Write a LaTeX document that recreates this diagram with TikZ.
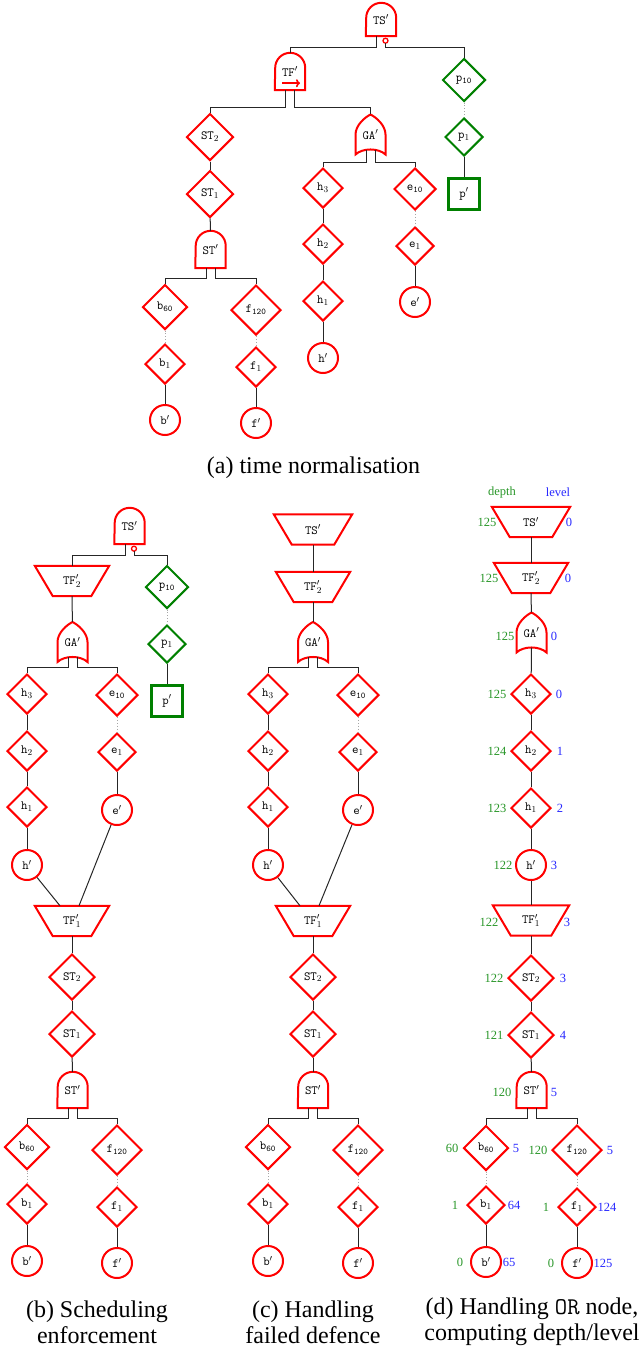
\documentclass[tikz,border=0pt]{standalone}
\usepackage{fontspec}
\setmainfont{Liberation Serif}
\usetikzlibrary{shapes.geometric,calc,arrows.meta}
\definecolor{dgreen}{RGB}{40,150,40}
\definecolor{dblue}{RGB}{40,40,255}
\definecolor{pgreen}{RGB}{0,128,0}
\newcommand\nfont{\fontsize{12.5}{14}\selectfont\ttfamily}
\newcommand\capfont{\fontsize{24}{26}\selectfont}
\newcommand\numfont{\fontsize{12.5}{14}\selectfont}
\tikzset{
 conn/.style={draw=black!85, line width=1pt},
 dotc/.style={draw=black!35, line width=0.9pt, dotted},
 rd/.style={draw=red, line width=2pt},
 gd/.style={draw=pgreen, line width=2pt},
 dia/.style={diamond, rd, inner sep=0pt, minimum width=#1, minimum height=#1, font=\nfont},
 gdia/.style={diamond, gd, inner sep=0pt, minimum width=#1, minimum height=#1, font=\nfont},
 circ/.style={circle, rd, minimum size=30pt, inner sep=0pt, font=\nfont},
 gsq/.style={rectangle, draw=pgreen, line width=2.2pt, minimum width=31pt, minimum height=31pt, inner sep=0pt, font=\nfont},
 gbox/.style={inner sep=0pt, minimum width=30pt, minimum height=#1, font=\nfont},
 tbox/.style={inner sep=0pt, minimum width=#1, minimum height=30pt, font=\nfont},
 dl/.style={text=dgreen, font=\numfont, inner sep=0pt},
 ll/.style={text=dblue, font=\numfont, inner sep=0pt},
 captext/.style={font=\capfont, align=center, inner sep=0pt},
}
\newcommand\andshape[1]{\draw[rd] (#1.south west) -- (#1.south east) -- ($(#1.north east)+(0,-15)$) arc[start angle=0,end angle=180,radius=15] -- cycle;}
\newcommand\orshape[1]{\draw[rd, shift={(#1.center)}] (-15,-20) -- (-15,0) .. controls (-15,9) and (-6,17) .. (0,20) .. controls (6,17) and (15,9) .. (15,0) -- (15,-20) .. controls (8,-13.3) and (-8,-13.3) .. cycle;}
\newcommand\trapshape[1]{\draw[rd] (#1.north west) -- (#1.north east) -- ($(#1.south east)+(-18,0)$) -- ($(#1.south west)+(18,0)$) -- cycle;}
\begin{document}
\begin{tikzpicture}[x=1pt,y=1pt]
\useasboundingbox (0,0) rectangle (642,-1347);

% ---------------- (a) ----------------
\node[gbox=33] (tsA) at (381,-19.5) {TS$'$};
\andshape{tsA}
\coordinate (bubA) at ($(tsA.south)+(4.5,-4.5)$);
\draw[draw=red, line width=1.3pt] (bubA) circle[radius=2.5];
\node[gbox=37] (tfA) at (290,-71.5) {TF$'$};
\andshape{tfA}
\draw[draw=red, line width=1.6pt, -{To[length=4pt,width=8pt]}] ($(tfA.south)+(-8,7)$) -- ++(18,0);
\node[dia=47] (stA2) at (210,-137) {ST$_2$};
\node[dia=47] (stA1) at (210,-194) {ST$_1$};
\node[gbox=37] (stA) at (210.5,-249.5) {ST$'$};
\andshape{stA}
\node[dia=45] (bA60) at (165,-307) {b$_{\mathtt{60}}$};
\node[dia=40] (bA1) at (165,-364) {b$_1$};
\node[circ] (bpA) at (165,-420) {b$'$};
\node[dia=50] (fA120) at (256,-310) {f$_{\mathtt{120}}$};
\node[dia=40] (fA1) at (256,-367) {f$_1$};
\node[circ] (fpA) at (256,-423) {f$'$};
\node[gbox=40] (gaA) at (370.5,-134.5) {GA$'$};
\orshape{gaA}
\node[dia=40] (hA3) at (323,-188) {h$_3$};
\node[dia=40] (hA2) at (323,-244) {h$_2$};
\node[dia=40] (hA1) at (323,-301) {h$_1$};
\node[circ] (hpA) at (323,-358) {h$'$};
\node[dia=42] (eA10) at (415,-189) {e$_{\mathtt{10}}$};
\node[dia=38] (eA1) at (415,-246) {e$_1$};
\node[circ] (epA) at (415,-302) {e$'$};
\node[gdia=43] (pA10) at (464,-80) {p$_{\mathtt{10}}$};
\node[gdia=38] (pA1) at (464,-137) {p$_1$};
\node[gsq] (ppA) at (464,-194) {p$'$};

\draw[conn] ($(tsA.south)+(-4.5,0)$) -- ++(0,-11) -| (tfA.north);
\draw[conn] ($(bubA)+(0,-2.5)$) -- ($(tsA.south)+(4.5,-11)$) -| (pA10.north);
\draw[conn] ($(tfA.south)+(-4.5,0)$) -- ++(0,-17) -| (stA2.north);
\draw[conn] ($(tfA.south)+(4.5,0)$) -- ++(0,-17) -| (gaA.north);
\draw[conn] (stA2) -- (stA1);
\draw[conn] (stA1) -- (stA);
\draw[conn] ($(stA.south)+(-4.5,0)$) -- ++(0,-10) -| (bA60.north);
\draw[conn] ($(stA.south)+(4.5,0)$) -- ++(0,-10) -| (fA120.north);
\draw[dotc] (bA60) -- (bA1);
\draw[conn] (bA1) -- (bpA);
\draw[dotc] (fA120) -- (fA1);
\draw[conn] (fA1) -- (fpA);
\draw[conn] ($(gaA.south)+(-4.5,5)$) -- ++(0,-13) -| (hA3.north);
\draw[conn] ($(gaA.south)+(4.5,5)$) -- ++(0,-13) -| (eA10.north);
\draw[conn] (hA3) -- (hA2);
\draw[conn] (hA2) -- (hA1);
\draw[conn] (hA1) -- (hpA);
\draw[dotc] (eA10) -- (eA1);
\draw[conn] (eA1) -- (epA);
\draw[dotc] (pA10) -- (pA1);
\draw[conn] (pA1) -- (ppA);

\node[captext] (capA) at (313.5,-468) {(a) time normalisation};

% ---------------- (b) ----------------
\node[gbox=36] (tsB) at (129.5,-526) {TS$'$};
\andshape{tsB}
\coordinate (bubB) at ($(tsB.south)+(4.5,-4.5)$);
\draw[draw=red, line width=1.3pt] (bubB) circle[radius=2.5];
\node[tbox=74] (tf2B) at (72,-581) {TF$'_2$};
\trapshape{tf2B}
\node[gbox=40] (gaB) at (72.5,-642) {GA$'$};
\orshape{gaB}
\node[dia=40] (hB3) at (27,-694) {h$_3$};
\node[dia=40] (hB2) at (27,-751) {h$_2$};
\node[dia=40] (hB1) at (27,-807) {h$_1$};
\node[circ] (hpB) at (27,-865) {h$'$};
\node[dia=42] (eB10) at (117,-695) {e$_{\mathtt{10}}$};
\node[dia=38] (eB1) at (117,-752) {e$_1$};
\node[circ] (epB) at (117,-810) {e$'$};
\node[gdia=43] (pB10) at (167,-587) {p$_{\mathtt{10}}$};
\node[gdia=38] (pB1) at (167,-644) {p$_1$};
\node[gsq] (ppB) at (167,-701) {p$'$};
\node[tbox=74] (tf1B) at (72,-921) {TF$'_1$};
\trapshape{tf1B}
\node[dia=46] (stB2) at (72,-977) {ST$_2$};
\node[dia=46] (stB1) at (72,-1034) {ST$_1$};
\node[gbox=36] (stB) at (72.5,-1090) {ST$'$};
\andshape{stB}
\node[dia=45] (bB60) at (27,-1147) {b$_{\mathtt{60}}$};
\node[dia=40] (bB1) at (27,-1204) {b$_1$};
\node[circ] (bpB) at (27,-1261) {b$'$};
\node[dia=50] (fB120) at (117,-1150) {f$_{\mathtt{120}}$};
\node[dia=40] (fB1) at (117,-1207) {f$_1$};
\node[circ] (fpB) at (117,-1263) {f$'$};

\draw[conn] ($(tsB.south)+(-4.5,0)$) -- ++(0,-11) -| (tf2B.north);
\draw[conn] ($(bubB)+(0,-2.5)$) -- ($(tsB.south)+(4.5,-11)$) -| (pB10.north);
\draw[conn] (tf2B) -- (gaB);
\draw[conn] ($(gaB.south)+(-4.5,5)$) -- ++(0,-10) -| (hB3.north);
\draw[conn] ($(gaB.south)+(4.5,5)$) -- ++(0,-10) -| (eB10.north);
\draw[conn] (hB3) -- (hB2);
\draw[conn] (hB2) -- (hB1);
\draw[conn] (hB1) -- (hpB);
\draw[dotc] (eB10) -- (eB1);
\draw[conn] (eB1) -- (epB);
\draw[dotc] (pB10) -- (pB1);
\draw[conn] (pB1) -- (ppB);
\draw[conn] (hpB) -- ($(tf1B.north)+(-12,0)$);
\draw[conn] (epB) -- ($(tf1B.north)+(7,0)$);
\draw[conn] (tf1B) -- (stB2);
\draw[conn] (stB2) -- (stB1);
\draw[conn] (stB1) -- (stB);
\draw[conn] ($(stB.south)+(-4.5,0)$) -- ++(0,-10) -| (bB60.north);
\draw[conn] ($(stB.south)+(4.5,0)$) -- ++(0,-10) -| (fB120.north);
\draw[dotc] (bB60) -- (bB1);
\draw[conn] (bB1) -- (bpB);
\draw[dotc] (fB120) -- (fB1);
\draw[conn] (fB1) -- (fpB);

\node[captext] (capB) at (97,-1322) {(b) Scheduling\\enforcement};

% ---------------- (c) ----------------
\node[tbox=78] (tsC) at (313,-529.5) {TS$'$};
\trapshape{tsC}
\node[tbox=74] (tf2C) at (313,-587) {TF$'_2$};
\trapshape{tf2C}
\node[gbox=40] (gaC) at (313,-642) {GA$'$};
\orshape{gaC}
\node[dia=40] (hC3) at (268,-694) {h$_3$};
\node[dia=40] (hC2) at (268,-751) {h$_2$};
\node[dia=40] (hC1) at (268,-807) {h$_1$};
\node[circ] (hpC) at (268,-865) {h$'$};
\node[dia=42] (eC10) at (358,-695) {e$_{\mathtt{10}}$};
\node[dia=38] (eC1) at (358,-752) {e$_1$};
\node[circ] (epC) at (358,-810) {e$'$};
\node[tbox=74] (tf1C) at (313,-921) {TF$'_1$};
\trapshape{tf1C}
\node[dia=46] (stC2) at (313,-977) {ST$_2$};
\node[dia=46] (stC1) at (313,-1034) {ST$_1$};
\node[gbox=36] (stC) at (313,-1090) {ST$'$};
\andshape{stC}
\node[dia=45] (bC60) at (268,-1147) {b$_{\mathtt{60}}$};
\node[dia=40] (bC1) at (268,-1204) {b$_1$};
\node[circ] (bpC) at (268,-1261) {b$'$};
\node[dia=50] (fC120) at (358,-1150) {f$_{\mathtt{120}}$};
\node[dia=40] (fC1) at (358,-1207) {f$_1$};
\node[circ] (fpC) at (358,-1263) {f$'$};

\draw[conn] (tsC) -- (tf2C);
\draw[conn] (tf2C) -- (gaC);
\draw[conn] ($(gaC.south)+(-4.5,5)$) -- ++(0,-10) -| (hC3.north);
\draw[conn] ($(gaC.south)+(4.5,5)$) -- ++(0,-10) -| (eC10.north);
\draw[conn] (hC3) -- (hC2);
\draw[conn] (hC2) -- (hC1);
\draw[conn] (hC1) -- (hpC);
\draw[dotc] (eC10) -- (eC1);
\draw[conn] (eC1) -- (epC);
\draw[conn] (hpC) -- ($(tf1C.north)+(-13,0)$);
\draw[conn] (epC) -- ($(tf1C.north)+(6,0)$);
\draw[conn] (tf1C) -- (stC2);
\draw[conn] (stC2) -- (stC1);
\draw[conn] (stC1) -- (stC);
\draw[conn] ($(stC.south)+(-4.5,0)$) -- ++(0,-10) -| (bC60.north);
\draw[conn] ($(stC.south)+(4.5,0)$) -- ++(0,-10) -| (fC120.north);
\draw[dotc] (bC60) -- (bC1);
\draw[conn] (bC1) -- (bpC);
\draw[dotc] (fC120) -- (fC1);
\draw[conn] (fC1) -- (fpC);

\node[captext] (capC) at (313,-1322) {(c) Handling\\failed defence};

% ---------------- (d) ----------------
\node[dl] (hdepth) at (502,-492) {depth};
\node[ll] (hlevel) at (558,-492) {level};
\node[tbox=78] (tsD) at (531,-522) {TS$'$};
\trapshape{tsD}
\node[tbox=74] (tf2D) at (531,-578) {TF$'_2$};
\trapshape{tf2D}
\node[gbox=40] (gaD) at (531.5,-632.5) {GA$'$};
\orshape{gaD}
\node[dia=40] (hD3) at (531,-694) {h$_3$};
\node[dia=40] (hD2) at (531,-751) {h$_2$};
\node[dia=40] (hD1) at (531,-808) {h$_1$};
\node[circ] (hpD) at (531,-865) {h$'$};
\node[tbox=76] (tf1D) at (531,-920.5) {TF$'_1$};
\trapshape{tf1D}
\node[dia=46] (stD2) at (531,-978) {ST$_2$};
\node[dia=46] (stD1) at (531,-1035) {ST$_1$};
\node[gbox=36] (stD) at (531.5,-1090) {ST$'$};
\andshape{stD}
\node[dia=45] (bD60) at (486,-1148) {b$_{\mathtt{60}}$};
\node[dia=38] (bD1) at (486,-1205) {b$_1$};
\node[circ] (bpD) at (486,-1262) {b$'$};
\node[dia=50] (fD120) at (577,-1150) {f$_{\mathtt{120}}$};
\node[dia=38] (fD1) at (577,-1207) {f$_1$};
\node[circ] (fpD) at (577,-1263) {f$'$};

\draw[conn] (tsD) -- (tf2D);
\draw[conn] (tf2D) -- (gaD);
\draw[conn] ($(gaD.south)+(0,5)$) -- (hD3);
\draw[conn] (hD3) -- (hD2);
\draw[conn] (hD2) -- (hD1);
\draw[conn] (hD1) -- (hpD);
\draw[conn] (hpD) -- (tf1D);
\draw[conn] (tf1D) -- (stD2);
\draw[conn] (stD2) -- (stD1);
\draw[conn] (stD1) -- (stD);
\draw[conn] ($(stD.south)+(-4.5,0)$) -- ++(0,-10) -| (bD60.north);
\draw[conn] ($(stD.south)+(4.5,0)$) -- ++(0,-10) -| (fD120.north);
\draw[dotc] (bD60) -- (bD1);
\draw[conn] (bD1) -- (bpD);
\draw[dotc] (fD120) -- (fD1);
\draw[conn] (fD1) -- (fpD);

\node[dl] (d1) at (487,-522) {125};   \node[ll] (l1) at (569,-522) {0};
\node[dl] (d2) at (489,-578) {125};   \node[ll] (l2) at (568,-578) {0};
\node[dl] (d3) at (505,-636) {125};   \node[ll] (l3) at (554,-636) {0};
\node[dl] (d4) at (497,-694) {125};   \node[ll] (l4) at (559,-694) {0};
\node[dl] (d5) at (497,-751) {124};   \node[ll] (l5) at (560,-751) {1};
\node[dl] (d6) at (497,-808) {123};   \node[ll] (l6) at (560,-808) {2};
\node[dl] (d7) at (503,-865) {122};   \node[ll] (l7) at (554,-865) {3};
\node[dl] (d8) at (489,-922) {122};   \node[ll] (l8) at (567,-922) {3};
\node[dl] (d9) at (494,-978) {122};   \node[ll] (l9) at (563,-978) {3};
\node[dl] (d10) at (494,-1035) {121}; \node[ll] (l10) at (563,-1035) {4};
\node[dl] (d11) at (502,-1092) {120}; \node[ll] (l11) at (554,-1092) {5};
\node[dl] (d12) at (452,-1148) {60};  \node[ll] (l12) at (516,-1148) {5};
\node[dl] (d13) at (538,-1150) {120}; \node[ll] (l13) at (610,-1150) {5};
\node[dl] (d14) at (455,-1205) {1};   \node[ll] (l14) at (514,-1205) {64};
\node[dl] (d15) at (546,-1207) {1};   \node[ll] (l15) at (607,-1207) {124};
\node[dl] (d16) at (460,-1262) {0};   \node[ll] (l16) at (509,-1262) {65};
\node[dl] (d17) at (551,-1263) {0};   \node[ll] (l17) at (603,-1263) {125};

\node[captext] (capD) at (532,-1322) {(d) Handling \texttt{OR} node,\\computing depth/level};
\end{tikzpicture}
\end{document}
